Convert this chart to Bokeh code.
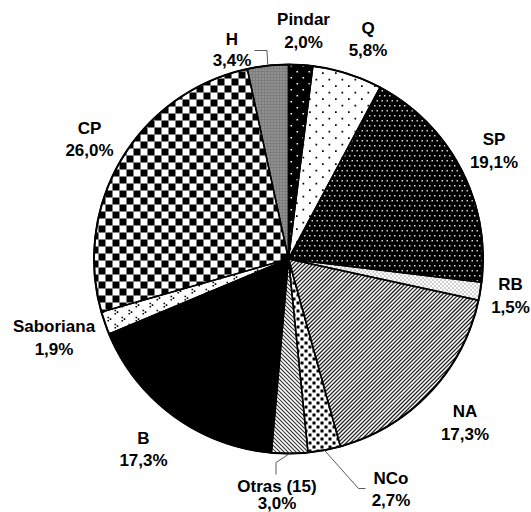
import math
from bokeh.plotting import figure
from bokeh.models import ColumnDataSource, Range1d
from bokeh.core.properties import value
from bokeh.embed import file_html
from bokeh.resources import INLINE

# ---------------- data ----------------
labels = ["Pindar", "Q", "SP", "RB", "NA", "NCo", "Otras (15)", "B", "Saboriana", "CP", "H"]
values = [2.0, 5.8, 19.1, 1.5, 17.3, 2.7, 3.0, 17.3, 1.9, 26.0, 3.4]

# ---------------- styles (fill patterns, one per slice) ----------------
SABO = [(2, 2, 1.6, 1.6), (4.2, 3.6, 1.6, 1.6), (2, 5.2, 1.6, 1.6),
        (9, 9, 1.6, 1.6), (11.2, 10.6, 1.6, 1.6), (9, 12.2, 1.6, 1.6)]
pattern_specs = [
    dict(kind="dots", bg="#000000", fg="#ffffff", s=12, el=[(2, 2, 1.6, 1.6), (8, 8, 1.6, 1.6)]),
    dict(kind="dots", bg="#ffffff", fg="#000000", s=13, el=[(3, 3, 1.7, 1.7), (9.5, 9.5, 1.7, 1.7)]),
    dict(kind="dots", bg="#000000", fg="#d5d5d5", s=10,
         el=[(1, 1, 1.5, 1.5), (6, 1, 1.5, 1.5), (3.5, 6, 1.5, 1.5), (8.5, 6, 1.5, 1.5)]),
    dict(kind="dots", bg="#ffffff", fg="#555555", s=4, el=[(0, 0, 1.1, 1.1), (2, 2, 1.1, 1.1)]),
    dict(kind="lines", bg="#ffffff", fg="#222222", s=4, dir="/", w=1.3),
    dict(kind="dots", bg="#ffffff", fg="#000000", s=8, el=[(0, 0, 3, 3), (4, 4, 3, 3)]),
    dict(kind="lines", bg="#ffffff", fg="#333333", s=4, dir="\\", w=1.1),
    dict(kind="solid", bg="#000000"),
    dict(kind="dots", bg="#ffffff", fg="#000000", s=14, el=SABO),
    dict(kind="dots", bg="#ffffff", fg="#000000", s=14, el=[(0, 0, 7, 7), (7, 7, 7, 7)]),
    dict(kind="dots", bg="#7d7d7d", fg="#cfcfcf", s=3, el=[(1, 1, 1, 1)]),
]

# ---------------- layout ----------------
W, H = 531, 512
# label centres in picture pixels (x right, y down)
name_x = [303, 367.5, 493.5, 510, 464.5, 390.5, 276.5, 143, 53.5, 89, 231.5]
name_y = [19, 27.5, 139, 284, 411, 477.5, 486, 437.5, 326, 127.5, 38.5]
line_gap = [22.5, 22.5, 22.5, 22.5, 22.5, 22.5, 16.5, 22.5, 22.5, 22.5, 21.5]

# leader lines: slice index -> (elbow, end) in picture pixels
leaders = {10: [(266.5, 50), (254, 50)],
           6: [(275.5, 462), (275.5, 474)],
           5: [(358, 488), (365, 488)]}

CXp, CYp, R = 288.0, 258.5, 194.5   # pie centre (picture px) and radius


def sy(y):
    return H - y


CX, CY = CXp, sy(CYp)

# ---------------- geometry from data ----------------
total = sum(values)
starts, ends, mids = [], [], []
cum = 0.0
for v in values:
    a0 = math.pi / 2 - 2 * math.pi * cum / total
    cum += v
    a1 = math.pi / 2 - 2 * math.pi * cum / total
    starts.append(a0)
    ends.append(a1)
    mids.append((a0 + a1) / 2)


def sector_poly(a0, a1):
    n = max(3, int(abs(a0 - a1) / math.radians(0.5)) + 2)
    pts = [(CX, CY)]
    for k in range(n):
        a = a0 + (a1 - a0) * k / (n - 1)
        pts.append((CX + R * math.cos(a), CY + R * math.sin(a)))
    return pts   # clockwise


def inside(p, a, b):
    return (b[0] - a[0]) * (p[1] - a[1]) - (b[1] - a[1]) * (p[0] - a[0]) <= 0


def intersect(p, q, a, b):
    x1, y1 = p
    x2, y2 = q
    x3, y3 = a
    x4, y4 = b
    den = (x1 - x2) * (y3 - y4) - (y1 - y2) * (x3 - x4)
    if den == 0:
        return q
    t = ((x1 - x3) * (y3 - y4) - (y1 - y3) * (x3 - x4)) / den
    return (x1 + t * (x2 - x1), y1 + t * (y2 - y1))


def clip(subject, poly):
    edges = list(zip(poly, poly[1:] + poly[:1]))
    if all(all(inside(p, a, b) for a, b in edges) for p in subject):
        return subject
    out = subject
    for a, b in edges:
        if not out:
            break
        inp = out
        out = []
        s = inp[-1]
        for e in inp:
            if inside(e, a, b):
                if not inside(s, a, b):
                    out.append(intersect(s, e, a, b))
                out.append(e)
            elif inside(s, a, b):
                out.append(intersect(s, e, a, b))
            s = e
    return out


pxs, pys, pcol = [], [], []
for i, spec in enumerate(pattern_specs):
    if spec["kind"] == "solid":
        continue
    poly = sector_poly(starts[i], ends[i])
    xmin = min(p[0] for p in poly); xmax = max(p[0] for p in poly)
    ymin = min(p[1] for p in poly); ymax = max(p[1] for p in poly)
    s = spec["s"]
    shapes = []
    if spec["kind"] == "dots":
        gx = math.floor(xmin / s) * s
        while gx < xmax:
            gy = math.floor(ymin / s) * s
            while gy < ymax:
                for ox, oy, w, h in spec["el"]:
                    x, y = gx + ox, gy + oy
                    if x > xmax or x + w < xmin or y > ymax or y + h < ymin:
                        continue
                    shapes.append([(x, y), (x + w, y), (x + w, y + h), (x, y + h)])
                gy += s
            gx += s
    else:
        hh = spec["w"] / 2 * math.sqrt(2)
        x0, x1 = xmin - 5, xmax + 5
        if spec["dir"] == "/":
            c = math.floor((ymin - xmax) / s) * s
            while c < ymax - xmin:
                shapes.append([(x0, x0 + c - hh), (x1, x1 + c - hh), (x1, x1 + c + hh), (x0, x0 + c + hh)])
                c += s
        else:
            c = math.floor((xmin + ymin) / s) * s
            while c < xmax + ymax:
                shapes.append([(x0, -x0 + c - hh), (x1, -x1 + c - hh), (x1, -x1 + c + hh), (x0, -x0 + c + hh)])
                c += s
    for sh in shapes:
        cl = clip(sh, poly)
        if len(cl) >= 3:
            pxs.append([p[0] for p in cl])
            pys.append([p[1] for p in cl])
            pcol.append(spec["fg"])

src = ColumnDataSource(dict(start=starts, end=ends, bg=[sp["bg"] for sp in pattern_specs]))

p = figure(width=W, height=H, output_backend="svg", toolbar_location=None,
           x_range=Range1d(0, W), y_range=Range1d(0, H),
           x_axis_type=None, y_axis_type=None, min_border=0)
p.outline_line_color = None
p.grid.visible = False
p.background_fill_color = "white"
p.border_fill_color = "white"

p.wedge(x=CX, y=CY, radius=R, start_angle="start", end_angle="end",
        direction="clock", source=src, fill_color="bg", line_color="bg", line_width=0.5)
p.patches(xs=pxs, ys=pys, fill_color=pcol, line_color=None)
p.wedge(x=CX, y=CY, radius=R, start_angle="start", end_angle="end",
        direction="clock", source=src, fill_color=None,
        line_color="black", line_width=1.5)
p.circle(x=[CX], y=[CY], radius=R, fill_color=None, line_color="black", line_width=2)

# leader lines (start on the slice's mid-angle on the rim)
xs, ys = [], []
for i, pts in leaders.items():
    ex = CX + R * math.cos(mids[i])
    ey = CY + R * math.sin(mids[i])
    xs.append([ex] + [q[0] for q in pts])
    ys.append([ey] + [sy(q[1]) for q in pts])
p.multi_line(xs=xs, ys=ys, line_color="#5a5a5a", line_width=1)

# labels
pct = [f"{v:.1f}%".replace(".", ",") for v in values]
tsrc = ColumnDataSource(dict(
    x=name_x + name_x,
    y=[sy(y) for y in name_y] + [sy(y + g) for y, g in zip(name_y, line_gap)],
    t=labels + pct,
))
p.text(x="x", y="y", text="t", source=tsrc,
       text_font=value("Arial"), text_font_style="bold",
       text_font_size="17px", text_align="center", text_baseline="middle",
       text_color="black")

open("out.html", "w").write(file_html(p, INLINE))
